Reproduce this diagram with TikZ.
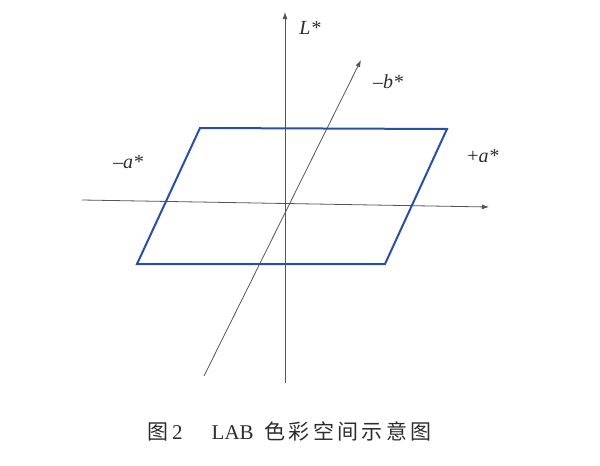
\documentclass[tikz,border=0pt]{standalone}
\usepackage{fontspec}
\setmainfont{Liberation Serif}
\newfontfamily\cjk{Noto Sans CJK SC}
\usetikzlibrary{arrows.meta}
\definecolor{axisgray}{RGB}{85,85,85}
\definecolor{txtgray}{RGB}{45,45,45}
\definecolor{planeblue}{RGB}{38,78,178}
\tikzset{
  axis/.style={draw=axisgray, line width=0.8pt, -{Latex[length=7pt,width=5pt]}},
  plane/.style={draw=planeblue, line width=2pt, line join=miter},
  lbl/.style={text=txtgray, font=\fontsize{20}{20}\selectfont\itshape, inner sep=0pt},
  captext/.style={text=txtgray, inner sep=0pt}
}
\begin{document}
\begin{tikzpicture}[x=1pt,y=-1pt]
\useasboundingbox (0,0) rectangle (600,466);
% axes endpoints
\coordinate (Lb) at (285,383);
\coordinate (Lt) at (285,12);
\coordinate (Al) at (82,200);
\coordinate (Ar) at (489,207);
\coordinate (Bb) at (204,376);
\coordinate (Bt) at (361,60);
% plane corners
\coordinate (P1) at (200,128);
\coordinate (P2) at (447,129);
\coordinate (P3) at (385,264);
\coordinate (P4) at (137,264);
\draw[axis] (Lb) -- (Lt);
\draw[axis] (Al) -- (Ar);
\draw[axis] (Bb) -- (Bt);
\draw[plane] (P1) -- (P2) -- (P3) -- (P4) -- cycle;
\node[lbl] (lL) at (310,28) {L*};
\node[lbl] (lB) at (388,82) {\textup{–}b*};
\node[lbl] (lAm) at (128,162) {\textup{–}a*};
\node[lbl] (lAp) at (483,156) {\textup{+}a*};
\node[captext, anchor=west] (caption) at (147,431) {\fontsize{21}{21}\selectfont{\cjk 图}\hspace{4pt}2\hspace{29pt}LAB\hspace{11pt}{\cjk 色\hspace{3.3pt}彩\hspace{3.3pt}空\hspace{3.3pt}间\hspace{3.3pt}示\hspace{3.3pt}意\hspace{3.3pt}图}};
\end{tikzpicture}
\end{document}
